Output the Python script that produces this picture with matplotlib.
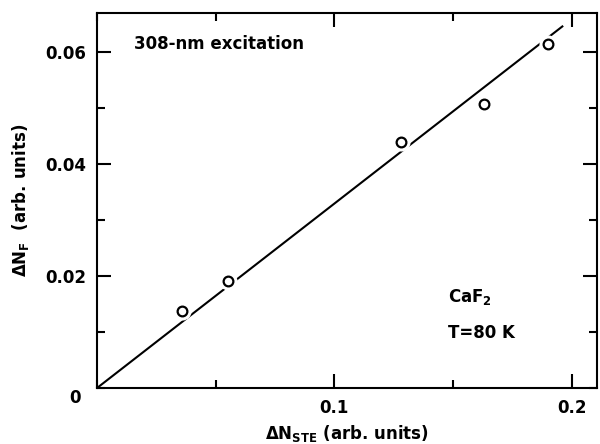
import matplotlib
matplotlib.use('Agg')
import matplotlib.pyplot as plt
from matplotlib.ticker import MultipleLocator

# data
x_ste = [0.036, 0.055, 0.128, 0.163, 0.190]
y_f = [0.0138, 0.0192, 0.0440, 0.0508, 0.0615]
fit_x = [0.0, 0.196]
fit_y = [0.0, 0.0646]

plt.rcParams['font.family'] = 'DejaVu Sans'
plt.rcParams['font.weight'] = 'bold'
plt.rcParams['axes.labelweight'] = 'bold'

fig = plt.figure(figsize=(6, 4.44), dpi=100)
ax = fig.add_axes([0.1617, 0.1261, 0.8333, 0.8446])

ax.plot(fit_x, fit_y, color='black', lw=1.5, zorder=2)
# white halo so the line breaks at the circles
ax.plot(x_ste, y_f, 'o', ms=12, color='white', zorder=3)
ax.plot(x_ste, y_f, 'o', ms=7, mfc='white', mec='black', mew=1.6, zorder=4)

ax.set_xlim(0, 0.2106)
ax.set_ylim(0, 0.067)

ax.xaxis.set_major_locator(MultipleLocator(0.1))
ax.xaxis.set_minor_locator(MultipleLocator(0.05))
ax.yaxis.set_major_locator(MultipleLocator(0.02))
ax.yaxis.set_minor_locator(MultipleLocator(0.01))
ax.tick_params(which='both', direction='in', top=True, right=True, width=1.5, labelsize=12, pad=8)
ax.tick_params(which='major', length=10)
ax.tick_params(which='minor', length=6)
for s in ax.spines.values():
    s.set_linewidth(1.5)

ax.set_xticks([0.1, 0.2])
ax.set_xticklabels(['0.1', '0.2'])
ax.set_yticks([0.02, 0.04, 0.06])
ax.set_yticklabels(['0.02', '0.04', '0.06'])
ax.text(-0.044, -0.027, '0', transform=ax.transAxes, fontsize=12, ha='center', va='center')

ax.set_xlabel(r'$\mathbf{\Delta N_{STE}}$ (arb. units)', fontsize=12, labelpad=4)
ax.set_ylabel(r'$\mathbf{\Delta N_{F}}$  (arb. units)', fontsize=12, labelpad=10)

ax.text(0.0155, 0.0615, '308-nm excitation', fontsize=12, va='center')
ax.text(0.148, 0.0163, r'CaF$_\mathbf{2}$', fontsize=12, va='center')
ax.text(0.148, 0.0098, 'T=80 K', fontsize=12, va='center')

plt.savefig('out.png', dpi=100)
